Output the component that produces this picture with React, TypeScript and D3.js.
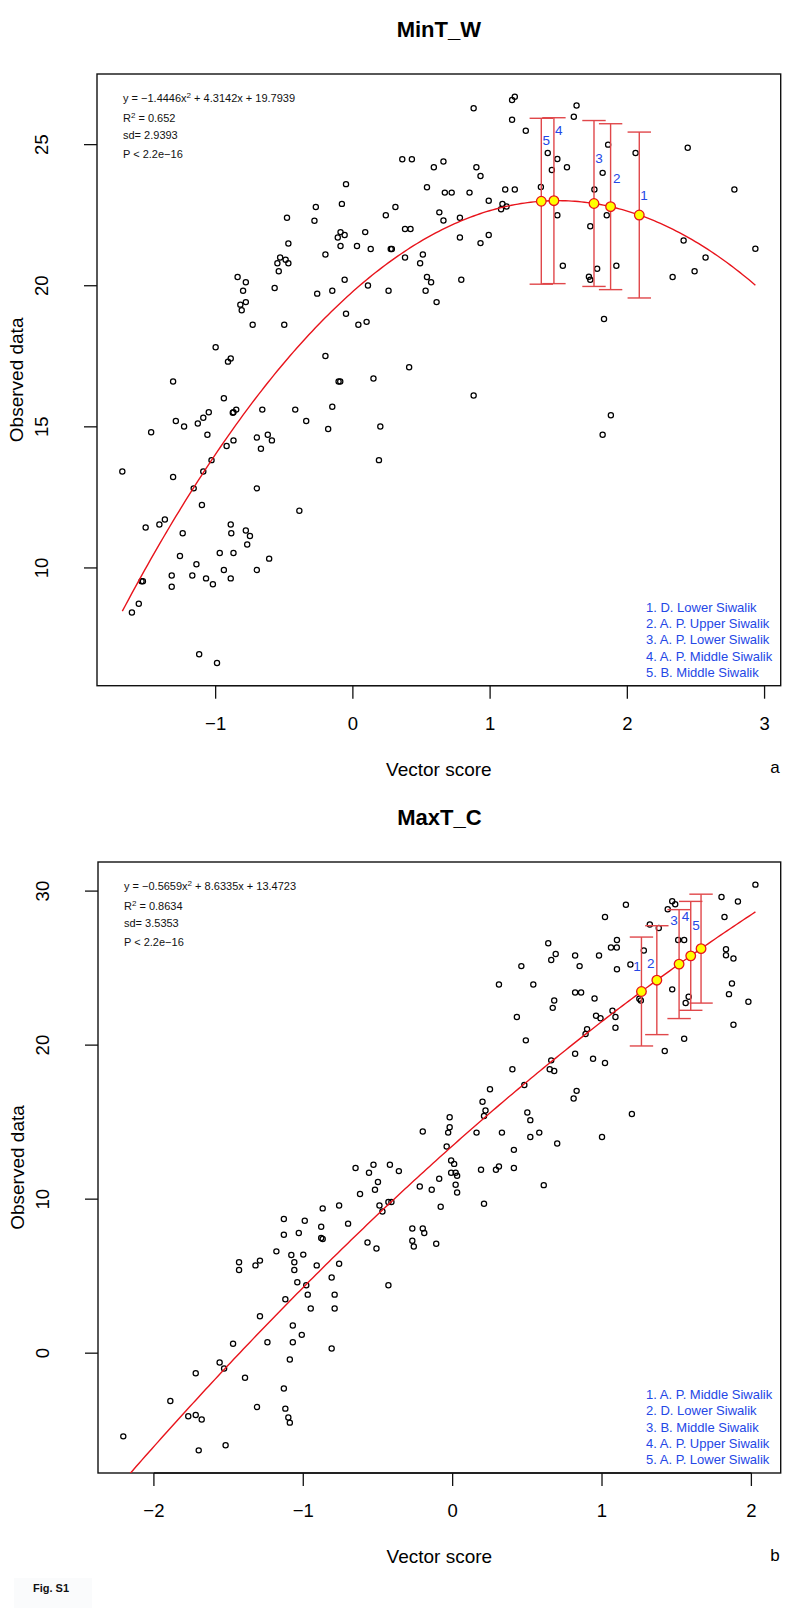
import React from "react";
import * as d3 from "d3";

// ---------------- DATA ----------------
// Panel a: MinT_W
const minTX = [
  0.36, 0.43, 0.59, -0.05, 0.54, -0.27, -0.08, 0.31, 0.24, -0.48, -0.28, 0.63, 0.09, -0.09, -0.06, -0.11,
  0.38, 0.42, -0.47, -0.09, 0.03, 0.13, 0.276, 0.284, -0.2, 0.51, 0.38, 0.49, -0.53, -0.49, -0.55, -0.47,
  -0.54, 0.61, 0.54, 0.57, 0.53, -0.84, -0.78, -0.8, -0.78, -0.82, -0.81, -0.57, -0.26, -0.15, -0.06, 0.11,
  0.26, -0.73, -0.5, -0.05, 0.04, 0.1, -1.0, -0.91, -0.89, -0.2, 0.41, -1.31, -0.104, -0.092, 0.15, -0.94,
  -1.05, -1.09, -1.13, -0.87, -0.85, -0.875, -0.66, -0.42, -0.15, -1.29, -1.23, -0.34, -0.18, 0.2, -1.47, -1.06,
  -0.7, -0.62, -0.59, -0.87, -0.92, -0.67, -1.03, 0.19, -1.68, -1.09, -1.31, -1.16, -0.7, -1.1, -0.39, -1.51,
  -1.41, -1.37, -1.24, -0.89, -0.886, -0.78, -0.75, -0.77, -0.97, -0.87, -1.26, -0.61, -1.14, -0.94, -0.7, -1.54,
  -1.53, -1.32, -1.32, -1.17, -1.07, -1.02, -0.89, -1.56, -1.61, -1.12, -0.99, 0.88, 1.88, 1.82, 0.88, 1.16,
  1.18, 1.16, 1.63, 1.61, 1.26, 0.66, 0.9, 0.93, 1.42, 1.49, 1.45, 1.56, 1.86, 2.06, 2.44, 1.82,
  0.67, 0.72, 0.85, 1.11, 1.18, 1.37, 1.76, 2.78, 0.99, 1.09, 1.08, 1.12, 0.66, 0.78, 1.49, 1.85,
  1.73, 0.78, 0.99, 0.93, 2.41, 2.57, 2.49, 2.33, 2.933, 1.53, 1.78, 1.72, 1.73, 1.92, 0.79, 1.83,
];
const minTY = [
  24.48, 24.48, 24.2, 23.6, 23.49, 22.79, 22.9, 22.79, 22.5, 22.41, 22.3, 22.6, 21.9, 21.9, 21.8, 21.71,
  22.01, 22.01, 21.5, 21.41, 21.41, 21.3, 21.3, 21.3, 21.11, 21.11, 21.0, 20.8, 21.0, 20.92, 20.8, 20.8,
  20.51, 19.42, 20.31, 20.12, 19.82, 20.31, 20.12, 19.82, 19.42, 19.33, 19.13, 19.92, 19.72, 19.82, 20.21, 20.01,
  19.82, 18.62, 18.62, 19.01, 18.62, 18.72, 17.82, 17.31, 17.42, 17.51, 17.11, 16.61, 16.61, 16.61, 16.71, 16.01,
  15.52, 15.32, 15.12, 15.52, 15.61, 15.5, 15.61, 15.61, 15.71, 15.21, 15.01, 15.21, 14.92, 15.01, 14.81, 14.72,
  14.62, 14.72, 14.52, 14.52, 14.32, 14.22, 13.82, 13.82, 13.42, 13.42, 13.22, 12.82, 12.82, 12.23, 12.03, 11.43,
  11.54, 11.72, 11.23, 11.54, 11.23, 11.33, 11.13, 10.83, 10.53, 10.53, 10.42, 10.33, 10.13, 9.93, 9.93, 9.53,
  9.53, 9.73, 9.33, 9.73, 9.63, 9.42, 9.63, 8.73, 8.42, 6.94, 6.63, 16.11, 15.41, 14.72, 26.29, 26.58,
  26.7, 25.88, 26.39, 25.99, 25.49, 24.4, 24.2, 23.89, 24.7, 24.49, 24.1, 24.2, 25.0, 24.7, 24.89, 24.0,
  23.3, 23.3, 23.3, 23.41, 23.41, 23.5, 23.41, 23.41, 23.01, 22.9, 22.71, 22.81, 22.31, 22.41, 22.5, 22.5,
  22.11, 21.71, 21.8, 21.51, 21.6, 21.0, 20.51, 20.31, 21.31, 20.71, 20.6, 20.32, 20.21, 20.71, 20.21, 18.82,
];
const minTCoef = [-1.4446, 4.3142, 19.7939];
const minTSd = 2.9393;
const minTStats = ["y = \u22121.4446x", "2", " + 4.3142x + 19.7939", "0.652", "2.9393", "2.2e\u221216"];
const minTGroups = [
  "1. D. Lower Siwalik",
  "2. A. P. Upper Siwalik",
  "3. A. P. Lower Siwalik",
  "4. A. P. Middle Siwalik",
  "5. B. Middle Siwalik",
];
const minTBarX = [2.087, 1.878, 1.757, 1.465, 1.373];
const minTLabelX = [2.121, 1.922, 1.793, 1.501, 1.41];
const minTLabelY = [23.21, 23.8, 24.52, 25.49, 25.14];
const minTXTicks = [-1, 0, 1, 2, 3];
const minTYTicks = [10, 15, 20, 25];

// Panel b: MaxT_C
const maxTX = [
  2.027, 1.16, 1.47, 1.49, 1.44, 1.8, 1.91, 1.02, 1.82, 1.32, 1.38, 1.51, 1.55, 1.1, 1.06, 1.099,
  0.64, 0.66, 0.69, 0.82, 0.98, 1.28, 1.83, 1.83, 1.88, 0.85, 0.46, 1.1, 1.19, 0.31, 0.54, 0.82,
  0.86, 0.95, 0.68, 0.67, 1.25, 1.26, 1.47, 1.87, 1.85, 1.58, 1.56, 1.98, 0.43, 1.07, 0.96, 0.99,
  1.09, 1.09, 0.9, 0.89, 1.88, 0.49, 1.55, 1.42, 0.66, 0.65, 0.68, 0.82, 0.94, 1.02, 0.4, 0.48,
  0.25, 0.83, 0.81, 0.2, 0.22, 0.21, 1.2, 0.5, 0.52, -0.02, -0.02, -0.03, 0.16, 0.33, 0.52, 0.58,
  1.0, -0.04, 0.41, 0.7, -0.01, 0.01, -0.01, 0.02, 0.03, 0.02, 0.03, 0.19, 0.29, 0.31, 0.41, 0.61,
  0.21, -0.09, -0.08, -0.2, -0.65, -0.56, -0.53, -0.5, -0.52, -0.42, -0.36, -0.22, -0.14, -0.62, -0.49, -0.43,
  -0.41, -0.47, -0.76, -0.87, -1.13, -1.13, -0.99, -0.88, -0.7, -1.03, -0.88, -0.87, -0.27, -0.2, -0.19, -0.27,
  -0.26, -0.11, -0.57, -0.51, -1.18, -1.08, -1.0, -1.06, -1.06, -0.91, -0.76, -1.43, -1.43, -1.32, -1.29, -1.04,
  -0.98, -0.97, -0.81, -0.79, -0.79, -0.95, -1.12, -0.43, -1.29, -1.07, -1.07, -1.01, -1.24, -0.81, -1.47, -1.09,
  -1.56, -1.53, -1.72, -1.39, -1.13, -1.89, -1.31, -1.12, -1.1, -1.09, -1.77, -1.72, -1.68, -2.205, -1.7, -1.52,
];
const maxTY = [
  30.42, 29.12, 29.34, 29.14, 28.82, 29.62, 29.32, 28.32, 28.32, 27.83, 27.61, 26.83, 26.83, 26.83, 26.34, 26.34,
  26.62, 25.53, 25.92, 25.82, 25.82, 26.14, 26.23, 25.84, 25.62, 25.13, 25.13, 24.93, 25.24, 23.94, 23.94, 23.42,
  23.42, 23.03, 22.9, 22.42, 23.01, 22.9, 23.62, 24.0, 23.31, 23.14, 22.73, 22.81, 21.82, 22.23, 21.91, 21.74,
  21.82, 21.13, 21.04, 20.72, 21.32, 20.31, 20.41, 19.62, 19.01, 18.43, 18.32, 19.44, 19.12, 18.84, 18.43, 17.41,
  17.14, 17.03, 16.53, 16.33, 15.75, 15.4, 15.53, 15.62, 15.13, 15.32, 14.67, 14.32, 14.32, 14.32, 14.04, 14.32,
  14.04, 13.42, 13.2, 13.61, 12.51, 12.29, 11.71, 11.71, 11.52, 10.93, 10.43, 11.91, 11.91, 12.12, 12.02, 10.91,
  9.7, 11.32, 9.51, 14.39, 12.02, 11.71, 12.23, 11.11, 10.61, 12.23, 11.82, 10.82, 10.61, 10.33, 9.59, 9.81,
  9.81, 9.2, 9.59, 9.4, 8.71, 7.69, 8.6, 8.21, 8.41, 7.8, 7.48, 7.41, 8.1, 8.1, 7.8, 7.3,
  6.92, 7.11, 7.19, 6.8, 6.61, 6.38, 6.4, 5.9, 5.4, 5.7, 5.81, 5.9, 5.4, 5.7, 6.01, 4.6,
  4.41, 3.8, 4.91, 3.8, 2.9, 2.9, 3.5, 4.41, 2.4, 1.8, 0.71, 1.19, 0.71, 0.3, 0.61, -0.41,
  -0.6, -0.99, -1.3, -1.59, -2.29, -3.11, -3.5, -3.6, -4.17, -4.51, -4.1, -4.02, -4.3, -5.4, -6.31, -5.98,
];
const maxTCoef = [-0.5659, 8.6335, 13.4723];
const maxTSd = 3.5353;
const maxTStats = ["y = \u22120.5659x", "2", " + 8.6335x + 13.4723", "0.8634", "3.5353", "2.2e\u221216"];
const maxTGroups = [
  "1. A. P. Middle Siwalik",
  "2. D. Lower Siwalik",
  "3. B. Middle Siwalik",
  "4. A. P. Upper Siwalik",
  "5. A. P. Lower Siwalik",
];
const maxTBarX = [1.264, 1.367, 1.516, 1.594, 1.663];
const maxTLabelX = [1.235, 1.326, 1.482, 1.559, 1.629];
const maxTLabelY = [25.08, 25.3, 28.08, 28.34, 27.74];
const maxTXTicks = [-2, -1, 0, 1, 2];
const maxTYTicks = [0, 10, 20, 30];

// ---------------- STYLE / LAYOUT ----------------
const FONT = "'Liberation Sans', Arial, Helvetica, sans-serif";
const BLUE = "#2447e6";
const CURVE = "#e8141c";
const BAR = "#e0474a";

type PanelProps = {
  id: string;
  title: string;
  letter: string;
  xs: number[];
  ys: number[];
  coef: number[];
  sd: number;
  stats: string[];
  groups: string[];
  barX: number[];
  labelX: number[];
  labelY: number[];
  xTicks: number[];
  yTicks: number[];
  left: number;
  right: number;
  top: number;
  bottom: number;
};

function padExtent(v: number[]): [number, number] {
  const [a, b] = d3.extent(v) as [number, number];
  const p = (b - a) * 0.04;
  return [a - p, b + p];
}

function Panel(p: PanelProps) {
  const x = d3.scaleLinear().domain(padExtent(p.xs)).range([p.left, p.right]);
  const y = d3.scaleLinear().domain(padExtent(p.ys)).range([p.bottom, p.top]);
  const f = (v: number) => p.coef[0] * v * v + p.coef[1] * v + p.coef[2];
  const [x0, x1] = d3.extent(p.xs) as [number, number];
  const curvePts = d3.range(0, 201).map((i) => x0 + ((x1 - x0) * i) / 200);
  const line = d3
    .line<number>()
    .x((v) => x(v))
    .y((v) => y(f(v)));
  const cx = (p.left + p.right) / 2;
  const cy = (p.top + p.bottom) / 2;
  const cap = 11.7;
  const tickLen = 13;
  const clipId = "clip-" + p.id;
  const annY = [p.top + 28, p.top + 47.5, p.top + 65, p.top + 83.5];
  const legBase = p.bottom - 9;
  return (
    <g>
      <defs>
        <clipPath id={clipId}>
          <rect x={p.left} y={p.top} width={p.right - p.left} height={p.bottom - p.top} />
        </clipPath>
      </defs>
      <text x={cx} y={p.top - 45} textAnchor="middle" dominantBaseline="central" fontFamily={FONT} fontWeight="bold" fontSize={22}>
        {p.title}
      </text>
      <rect x={p.left} y={p.top} width={p.right - p.left} height={p.bottom - p.top} fill="none" stroke="#111" strokeWidth={1.4} />
      {/* x axis */}
      {p.xTicks.map((t) => (
        <g key={"xt" + t}>
          <line x1={x(t)} x2={x(t)} y1={p.bottom} y2={p.bottom + tickLen} stroke="#111" strokeWidth={1.3} />
          <text x={x(t)} y={p.bottom + 37.5} textAnchor="middle" dominantBaseline="central" fontFamily={FONT} fontSize={18.5}>
            {t < 0 ? "\u2212" + Math.abs(t) : String(t)}
          </text>
        </g>
      ))}
      <line x1={x(p.xTicks[0])} x2={x(p.xTicks[p.xTicks.length - 1])} y1={p.bottom} y2={p.bottom} stroke="#111" strokeWidth={1.3} />
      {/* y axis */}
      {p.yTicks.map((t) => (
        <g key={"yt" + t}>
          <line x1={p.left - tickLen} x2={p.left} y1={y(t)} y2={y(t)} stroke="#111" strokeWidth={1.3} />
          <text
            transform={`translate(${p.left - 56},${y(t)}) rotate(-90)`}
            textAnchor="middle"
            dominantBaseline="central"
            fontFamily={FONT}
            fontSize={18.5}
          >
            {t < 0 ? "\u2212" + Math.abs(t) : String(t)}
          </text>
        </g>
      ))}
      <text x={cx} y={p.bottom + 83.5} textAnchor="middle" dominantBaseline="central" fontFamily={FONT} fontSize={19}>
        Vector score
      </text>
      <text x={775} y={p.bottom + 82} textAnchor="middle" dominantBaseline="central" fontFamily={FONT} fontSize={17}>
        {p.letter}
      </text>
      <text
        transform={`translate(${p.left - 81},${cy}) rotate(-90)`}
        textAnchor="middle"
        dominantBaseline="central"
        fontFamily={FONT}
        fontSize={19}
      >
        Observed data
      </text>
      {/* annotations */}
      <g fontFamily={FONT} fontSize={11} fill="#111">
        <text x={p.left + 26} y={annY[0]}>
          {p.stats[0]}
          <tspan dy={-4} fontSize={8}>
            {p.stats[1]}
          </tspan>
          <tspan dy={4}>{p.stats[2]}</tspan>
        </text>
        <text x={p.left + 26} y={annY[1]}>
          R<tspan dy={-4} fontSize={8}>2</tspan>
          <tspan dy={4}>{" = " + p.stats[3]}</tspan>
        </text>
        <text x={p.left + 26} y={annY[2]}>
          {"sd= " + p.stats[4]}
        </text>
        <text x={p.left + 26} y={annY[3]}>
          {"P < " + p.stats[5]}
        </text>
      </g>
      {/* scatter */}
      <g clipPath={`url(#${clipId})`}>
        {p.xs.map((v, i) => (
          <circle key={"pt" + i} cx={x(v)} cy={y(p.ys[i])} r={2.6} fill="none" stroke="#000" strokeWidth={1.25} />
        ))}
        <path d={line(curvePts) || ""} fill="none" stroke={CURVE} strokeWidth={1.4} />
      </g>
      {/* error bars */}
      {p.barX.map((bx, i) => {
        const m = f(bx);
        const px = x(bx);
        const yt = y(m + p.sd);
        const yb = y(m - p.sd);
        return (
          <g key={"bar" + i} stroke={BAR} strokeWidth={1.4}>
            <line x1={px} x2={px} y1={yt} y2={yb} />
            <line x1={px - cap} x2={px + cap} y1={yt} y2={yt} />
            <line x1={px - cap} x2={px + cap} y1={yb} y2={yb} />
          </g>
        );
      })}
      {p.barX.map((bx, i) => (
        <circle key={"m" + i} cx={x(bx)} cy={y(f(bx))} r={4.8} fill="#ffff00" stroke={CURVE} strokeWidth={1.3} />
      ))}
      {p.barX.map((bx, i) => (
        <text
          key={"bl" + i}
          x={x(p.labelX[i])}
          y={y(p.labelY[i])}
          textAnchor="middle"
          dominantBaseline="central"
          fontFamily={FONT}
          fontSize={13.5}
          fill={BLUE}
        >
          {String(i + 1)}
        </text>
      ))}
      {/* legend */}
      <g fontFamily={FONT} fontSize={13} fill={BLUE}>
        {p.groups.map((g, i) => (
          <text key={"lg" + i} x={646} y={legBase - (p.groups.length - 1 - i) * 16.2}>
            {g}
          </text>
        ))}
      </g>
    </g>
  );
}

export default function App() {
  return (
    <div style={{ position: "absolute", left: 0, top: 0, width: 787, height: 1615, background: "#fff" }}>
      <svg width={787} height={1615} viewBox="0 0 787 1615" style={{ display: "block" }}>
        <rect x={0} y={0} width={787} height={1615} fill="#fff" />
        <Panel
          id="a"
          title="MinT_W"
          letter="a"
          xs={minTX}
          ys={minTY}
          coef={minTCoef}
          sd={minTSd}
          stats={minTStats}
          groups={minTGroups}
          barX={minTBarX}
          labelX={minTLabelX}
          labelY={minTLabelY}
          xTicks={minTXTicks}
          yTicks={minTYTicks}
          left={97}
          right={780.7}
          top={74}
          bottom={685.7}
        />
        <Panel
          id="b"
          title="MaxT_C"
          letter="b"
          xs={maxTX}
          ys={maxTY}
          coef={maxTCoef}
          sd={maxTSd}
          stats={maxTStats}
          groups={maxTGroups}
          barX={maxTBarX}
          labelX={maxTLabelX}
          labelY={maxTLabelY}
          xTicks={maxTXTicks}
          yTicks={maxTYTicks}
          left={98}
          right={780.7}
          top={862}
          bottom={1473}
        />
        <rect x={14} y={1578} width={78} height={30} fill="#fafbfc" />
        <text x={33} y={1592} fontFamily={FONT} fontWeight="bold" fontSize={11} fill="#111">
          Fig. S1
        </text>
      </svg>
    </div>
  );
}
